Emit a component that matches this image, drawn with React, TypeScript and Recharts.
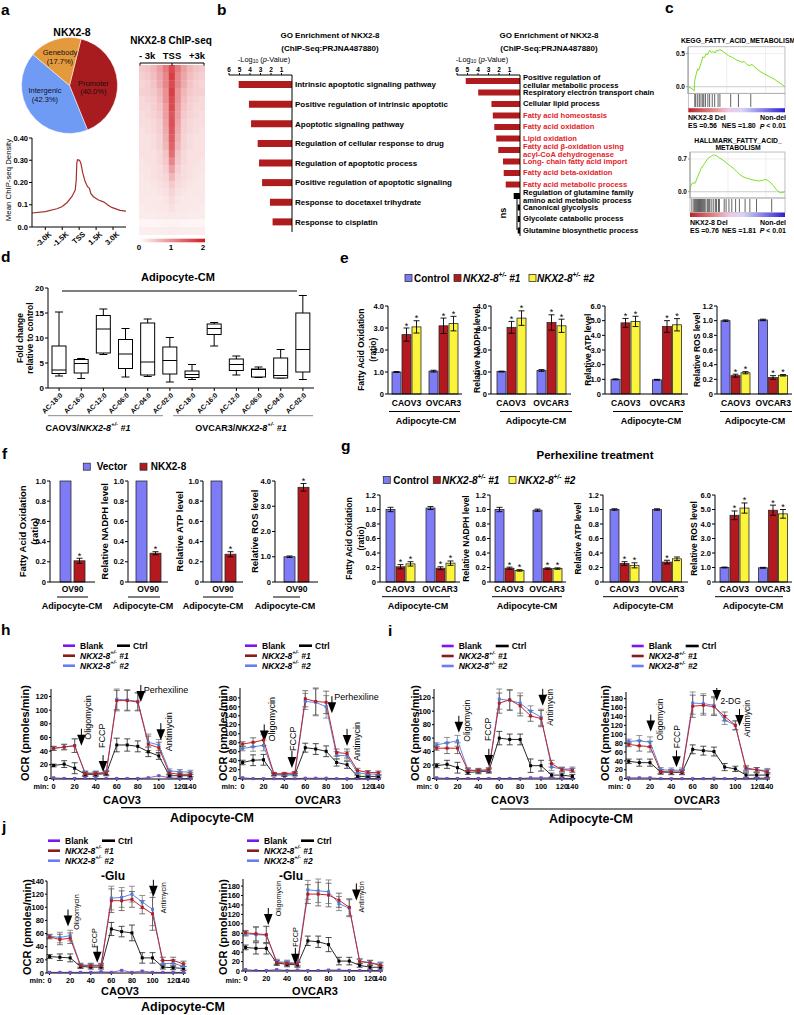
import React from 'react';
import {
  PieChart, Pie, Cell, LineChart, Line, XAxis, YAxis, BarChart, Bar, ErrorBar,
  ScatterChart, Scatter, ComposedChart, ReferenceLine, ReferenceDot, CartesianGrid,
} from 'recharts';

const FONT = '"Liberation Sans", Arial, Helvetica, sans-serif';
const AX = { stroke: '#000', strokeWidth: 1 };
const TL = { stroke: '#000', strokeWidth: 1 };
const tk = (fs: number, fw = 700) => ({ fontSize: fs, fontWeight: fw, fill: '#000', fontFamily: FONT });

/* ---------------- a ---------------- */
const PIE_NAMES = ['Promoter', 'Intergenic', 'Genebody'];
const PIE_VALUES = [40.0, 42.3, 17.7];
const PIE_COLORS = ['#a81b1f', '#6f9bf5', '#e4993d'];

const DENS_X = [-4.18, -3.0, -1.97, -1.53, -1.09, -0.65, -0.35, -0.26, -0.21, -0.15, 0.03, 0.15, 0.32, 0.53, 0.74, 0.91, 1.03, 1.26, 1.71, 2.15, 2.38, 2.5, 2.88, 3.62, 4.15];
const DENS_Y = [0.063, 0.069, 0.082, 0.091, 0.109, 0.136, 0.166, 0.211, 0.287, 0.302, 0.3, 0.287, 0.242, 0.204, 0.181, 0.174, 0.151, 0.136, 0.121, 0.113, 0.106, 0.1, 0.088, 0.075, 0.071];
const DENS_XTICKS = [-3, -1.5, 0, 1.5, 3];
const DENS_XLABELS = ['-3.0K', '-1.5K', 'TSS', '1.5K', '3.0K'];
const DENS_YTICKS = [0, 0.1, 0.2, 0.3, 0.4];
const DENS_YLABELS = ['0.0', '0.1', '0.20', '0.30', '0.40'];

const HEAT = [
  [0.45, 0.5, 0.6, 0.8, 1.1, 1.5, 1.1, 0.8, 0.6, 0.5, 0.45],
  [0.4, 0.45, 0.55, 0.75, 1.0, 1.6, 1.0, 0.75, 0.55, 0.45, 0.4],
  [0.35, 0.4, 0.5, 0.7, 1.0, 1.5, 1.0, 0.7, 0.5, 0.4, 0.35],
  [0.4, 0.4, 0.45, 0.6, 0.9, 1.6, 0.9, 0.6, 0.45, 0.4, 0.4],
  [0.32, 0.36, 0.4, 0.55, 0.9, 1.5, 0.9, 0.55, 0.4, 0.36, 0.32],
  [0.32, 0.32, 0.4, 0.5, 0.8, 1.5, 0.85, 0.5, 0.4, 0.32, 0.32],
  [0.28, 0.32, 0.36, 0.45, 0.8, 1.4, 0.8, 0.45, 0.36, 0.32, 0.28],
  [0.28, 0.28, 0.32, 0.4, 0.75, 1.45, 0.75, 0.4, 0.32, 0.28, 0.28],
  [0.25, 0.28, 0.32, 0.4, 0.7, 1.4, 0.7, 0.4, 0.32, 0.28, 0.25],
  [0.25, 0.25, 0.28, 0.36, 0.65, 1.35, 0.65, 0.36, 0.28, 0.25, 0.25],
  [0.25, 0.25, 0.28, 0.36, 0.6, 1.3, 0.6, 0.36, 0.28, 0.25, 0.25],
  [0.25, 0.25, 0.25, 0.32, 0.5, 1.2, 0.5, 0.32, 0.25, 0.25, 0.25],
  [0.22, 0.25, 0.25, 0.32, 0.45, 1.0, 0.45, 0.32, 0.25, 0.25, 0.22],
  [0.22, 0.22, 0.25, 0.28, 0.4, 0.8, 0.4, 0.28, 0.25, 0.22, 0.22],
  [0.2, 0.22, 0.25, 0.28, 0.34, 0.6, 0.34, 0.28, 0.25, 0.22, 0.2],
  [0.2, 0.2, 0.22, 0.25, 0.3, 0.45, 0.3, 0.25, 0.22, 0.2, 0.2],
  [0.2, 0.2, 0.2, 0.22, 0.25, 0.36, 0.25, 0.22, 0.2, 0.2, 0.2],
  [0.18, 0.18, 0.2, 0.2, 0.22, 0.3, 0.22, 0.2, 0.2, 0.18, 0.18],
  [0.16, 0.18, 0.18, 0.2, 0.2, 0.25, 0.2, 0.2, 0.18, 0.18, 0.16],
  [0.16, 0.16, 0.16, 0.18, 0.18, 0.2, 0.18, 0.18, 0.16, 0.16, 0.16],
  [0.08, 0.08, 0.08, 0.08, 0.1, 0.1, 0.1, 0.08, 0.08, 0.08, 0.08],
  [0.14, 0.14, 0.14, 0.15, 0.15, 0.17, 0.15, 0.15, 0.14, 0.14, 0.14],
];

/* ---------------- b ---------------- */
const GO_TICKS = [1, 2, 3, 4, 5, 6];
const GO1_TERMS = ['Intrinsic apoptotic signaling pathway', 'Positive regulation of intrinsic apoptotic', 'Apoptotic signaling pathway', 'Regulation of cellular response to drug', 'Regulation of apoptotic process', 'Positive regulation of apoptotic signaling', 'Response to docetaxel trihydrate', 'Response to cisplatin'];
const GO1_VALUES = [5.08, 4.1, 3.9, 3.27, 3.14, 2.85, 2.1, 1.85];
const GO2_TERMS = ['Positive regulation of\ncellular metabolic process', 'Respiratory electron transport chain', 'Cellular lipid process', 'Fatty acid homeostasis', 'Fatty acid oxidation', 'Lipid oxidation', 'Fatty acid \u03b2-oxidation using\nacyl-CoA dehydrogenase', 'Long- chain fatty acid import', 'Fatty acid beta-oxidation', 'Fatty acid metabolic process', 'Regulation of glutamine family\namino acid metabolic process', 'Canonical glycolysis', 'Glycolate catabolic process', 'Glutamine biosynthetic process'];
const GO2_VALUES = [5.17, 3.98, 2.72, 2.59, 2.45, 2.26, 2.07, 1.62, 1.55, 1.36, 0.6, 0.22, 0.22, 0.22];
const GO2_FATTY = [false, false, false, true, true, true, true, true, true, true, false, false, false, false];
const GO2_NS = [false, false, false, false, false, false, false, false, false, false, true, true, true, true];

/* ---------------- c ---------------- */
const KEGG_X = [0, 3, 6.4, 7, 8.1, 9.9, 11, 13.4, 15.2, 17, 18.7, 20, 22.3, 24, 25.8, 28, 29.3, 31, 32.9, 36.4, 41.7, 46, 50.5, 55.8, 58, 61.1, 64, 66, 68.2, 75.3, 89.4, 100];
const KEGG_ES = [0, -0.02, -0.06, 0.1, 0.17, 0.27, 0.25, 0.35, 0.45, 0.44, 0.5, 0.48, 0.55, 0.52, 0.53, 0.51, 0.55, 0.54, 0.56, 0.53, 0.47, 0.44, 0.4, 0.37, 0.38, 0.33, 0.32, 0.34, 0.3, 0.22, 0.11, 0];
const KEGG_HITS = [7, 8, 10, 11.7, 13.4, 15.2, 16.3, 18, 20.5, 22.3, 25, 27.5, 31, 32.9, 44, 52, 64.7];
const HALL_X = [0, 1, 2.8, 5.3, 8.1, 11.7, 15.2, 18.7, 22.3, 24.7, 28, 31.1, 34.6, 38.2, 41.7, 45.2, 48.8, 52.3, 55.8, 59.4, 63, 66.4, 70, 73.5, 77, 80.6, 84.1, 87.6, 91.2, 95, 100];
const HALL_ES = [0, 0.14, 0.19, 0.18, 0.32, 0.5, 0.6, 0.71, 0.76, 0.79, 0.77, 0.72, 0.68, 0.62, 0.56, 0.51, 0.44, 0.37, 0.32, 0.29, 0.27, 0.25, 0.24, 0.23, 0.25, 0.26, 0.21, 0.13, 0.04, -0.03, 0];
const HALL_HITS = [2, 4, 5, 6, 7, 8, 9, 10, 11, 12, 13, 14, 15, 16, 18, 19, 20, 21, 23, 25, 27, 28, 30, 31, 36, 38, 41, 44, 48, 52, 58, 63, 70, 86];
const GSEA_GRID_X = [20, 40, 60, 80];

/* ---------------- d ---------------- */
const AC_LABELS = ['AC-18:0', 'AC-16:0', 'AC-12:0', 'AC-06:0', 'AC-04:0', 'AC-02:0', 'AC-18:0', 'AC-16:0', 'AC-12:0', 'AC-06:0', 'AC-04:0', 'AC-02:0'];
const BOX_MIN = [2.4, 1.9, 6.7, 2.2, 2.3, 1.2, 1.7, 8.4, 2.6, 2.1, 2.0, 1.7];
const BOX_Q1 = [2.9, 3.0, 7.0, 3.9, 2.6, 2.8, 2.1, 10.7, 3.5, 2.2, 2.0, 3.2];
const BOX_MED = [3.6, 4.9, 11.8, 6.8, 5.2, 5.5, 2.7, 11.9, 4.7, 3.7, 2.5, 7.7];
const BOX_Q3 = [8.4, 5.7, 14.5, 9.7, 13.0, 8.2, 3.4, 12.8, 5.8, 3.8, 6.0, 15.0];
const BOX_MAX = [15.2, 5.9, 15.8, 11.9, 13.8, 10.1, 4.7, 13.1, 6.4, 4.2, 7.7, 18.5];
const BOX_TICKS = [0, 5, 10, 15, 20];

/* ---------------- e / f / g ---------------- */
const C_CTRL = '#7d7bf5';
const C_N1 = '#b3191e';
const C_N2 = '#fbf43a';
const GROUPS = ['CAOV3', 'OVCAR3'];
const F_GROUPS = ['OV90'];
const TICKS_4 = [0, 1, 2, 3, 4];
const TICKS_6 = [0, 1, 2, 3, 4, 5, 6];
const TICKS_12 = [0, 0.2, 0.4, 0.6, 0.8, 1.0, 1.2];
const TICKS_10 = [0, 0.2, 0.4, 0.6, 0.8, 1.0];

const E_FAO = [[1.0, 2.7, 3.05], [1.04, 3.1, 3.2]];
const E_FAO_SEM = [[0.02, 0.3, 0.28], [0.04, 0.35, 0.33]];
const E_NADPH = [[1.02, 3.03, 3.45], [1.07, 3.25, 3.1]];
const E_NADPH_SEM = [[0.02, 0.27, 0.33], [0.04, 0.35, 0.3]];
const E_ATP = [[1.0, 4.85, 4.95], [0.97, 4.6, 4.72]];
const E_ATP_SEM = [[0.03, 0.3, 0.35], [0.03, 0.4, 0.42]];
const E_ROS = [[1.0, 0.25, 0.29], [1.01, 0.225, 0.255]];
const E_ROS_SEM = [[0.01, 0.02, 0.015], [0.01, 0.025, 0.01]];

const F_FAO = [[1.0, 0.21]];
const F_FAO_SEM = [[0, 0.025]];
const F_NADPH = [[1.0, 0.285]];
const F_NADPH_SEM = [[0, 0.015]];
const F_ATP = [[1.0, 0.275]];
const F_ATP_SEM = [[0, 0.025]];
const F_ROS = [[1.0, 3.75]];
const F_ROS_SEM = [[0.03, 0.15]];

const G_FAO = [[1.0, 0.21, 0.25], [1.02, 0.19, 0.26]];
const G_FAO_SEM = [[0.03, 0.03, 0.03], [0.02, 0.02, 0.03]];
const G_NADPH = [[1.0, 0.19, 0.16], [0.99, 0.185, 0.185]];
const G_NADPH_SEM = [[0.03, 0.015, 0.01], [0.015, 0.01, 0.01]];
const G_ATP = [[1.0, 0.255, 0.23], [1.0, 0.275, 0.32]];
const G_ATP_SEM = [[0.01, 0.025, 0.035], [0.01, 0.025, 0.025]];
const G_ATP_STARS = [[false, true, true], [false, true, false]];
const G_ROS = [[1.0, 4.6, 5.1], [0.98, 4.95, 4.7]];
const G_ROS_SEM = [[0.03, 0.3, 0.35], [0.03, 0.35, 0.3]];

/* ---------------- h / i / j ---------------- */
const OCR_POINTS = [0, 1, 2, 3, 4, 5, 6, 7, 8, 9, 10, 11, 12, 13];
const OCR_TICKS = [0, 2, 4, 6, 8, 10, 12, 13];
const OCR_TICK_LABELS = ['0', '20', '40', '60', '80', '100', '120', '140'];
const OCR_Y120 = [0, 20, 40, 60, 80, 100, 120];
const OCR_Y140 = [0, 20, 40, 60, 80, 100, 120, 140];
const OCR_Y180 = [0, 20, 40, 60, 80, 100, 120, 140, 160, 180];

const H1_BLANK = [1, 0, 0, 0, 0, 0, 0, 0, 0, 1, 4, 1, 0, 0];
const H1_CTRL = [19, 21, 15, 6, 6, 7, 49, 49, 47, 39, 33, 4, 4, 4];
const H1_N1 = [44, 46, 48, 7, 7, 8, 114, 114, 112, 50, 45, 8, 6, 6];
const H1_N2 = [44, 46, 48, 8, 8, 9, 116, 115, 113, 53, 49, 11, 10, 9];
const H1_CTRL_ERR = [2, 5, 8, 3, 3, 3, 10, 9, 8, 7, 5, 2, 2, 2];
const H1_NKX_ERR = [3, 4, 10, 3, 3, 3, 15, 15, 13, 12, 8, 3, 3, 3];

const H2_BLANK = [2, 0, 0, 0, 0, 0, 1, 1, 1, 0, 0, 0, 0, 0];
const H2_CTRL = [36, 41, 42, 9, 8, 9, 69, 66, 61, 36, 31, 5, 5, 5];
const H2_N1 = [77, 81, 86, 11, 11, 13, 178, 172, 170, 58, 56, 18, 14, 13];
const H2_N2 = [67, 71, 74, 10, 9, 10, 172, 170, 160, 52, 51, 13, 10, 10];
const H2_CTRL_ERR = [5, 12, 12, 3, 3, 3, 10, 12, 12, 8, 8, 3, 3, 3];
const H2_NKX_ERR = [5, 10, 12, 3, 3, 3, 18, 30, 25, 8, 10, 5, 4, 4];

const I1_BLANK = [1, 0, 0, 0, 0, 0, 0, 0, 0, 1, 1, 1, 0, 0];
const I1_CTRL = [19, 21, 16, 9, 10, 11, 60, 58, 58, 19, 19, 5, 5, 3];
const I1_N1 = [45, 45, 45, 12, 12, 13, 112, 117, 108, 93, 89, 22, 13, 12];
const I1_N2 = [50, 53, 56, 13, 11, 12, 118, 116, 112, 100, 91, 17, 14, 14];
const I1_CTRL_ERR = [3, 6, 8, 3, 3, 3, 10, 8, 8, 10, 8, 3, 3, 3];
const I1_NKX_ERR = [3, 8, 8, 3, 3, 3, 15, 15, 15, 8, 12, 5, 3, 3];

const I2_BLANK = [2, 2, 2, 0, 0, 0, 0, 0, 1, 0, 0, 0, 1, 2];
const I2_CTRL = [39, 36, 36, 15, 14, 14, 66, 63, 61, 26, 22, 8, 8, 8];
const I2_N1 = [77, 74, 72, 16, 15, 15, 163, 165, 162, 140, 120, 24, 20, 15];
const I2_N2 = [84, 85, 82, 20, 19, 19, 170, 169, 165, 132, 120, 21, 20, 18];
const I2_CTRL_ERR = [5, 8, 8, 5, 5, 5, 10, 10, 10, 8, 6, 5, 5, 5];
const I2_NKX_ERR = [5, 12, 12, 5, 5, 5, 25, 22, 20, 10, 10, 5, 5, 5];

const J1_BLANK = [1, 1, 1, 1, 1, 2, 1, 4, 1, 3, 1, 1, 1, 1];
const J1_CTRL = [25, 24, 23, 10, 9, 9, 67, 63, 61, 23, 23, 9, 8, 7];
const J1_N1 = [55, 51, 53, 11, 11, 11, 110, 110, 112, 100, 90, 19, 19, 14];
const J1_N2 = [56, 54, 57, 12, 12, 12, 114, 115, 120, 108, 97, 14, 15, 10];
const J1_CTRL_ERR = [3, 5, 6, 3, 3, 3, 10, 8, 12, 8, 8, 3, 3, 3];
const J1_NKX_ERR = [3, 8, 8, 3, 3, 3, 18, 15, 12, 10, 25, 5, 5, 4];

const J2_BLANK = [3, 1, 1, 3, 1, 2, 1, 1, 2, 2, 1, 1, 1, 1];
const J2_CTRL = [50, 48, 48, 17, 14, 13, 64, 62, 56, 21, 21, 12, 8, 8];
const J2_N1 = [81, 79, 77, 18, 16, 15, 163, 163, 161, 150, 135, 20, 17, 12];
const J2_N2 = [79, 77, 76, 20, 18, 17, 172, 170, 168, 143, 133, 21, 18, 14];
const J2_CTRL_ERR = [5, 12, 12, 5, 5, 5, 10, 12, 15, 8, 8, 4, 4, 4];
const J2_NKX_ERR = [5, 15, 18, 5, 5, 5, 20, 25, 25, 15, 18, 5, 5, 5];

const H1_ANN = [
  { x: 2.64, y: 48, t: 'Oligomycin', rot: true, dx: 7, dy: -6 },
  { x: 4.7, y: 9.3, t: 'FCCP', rot: true, dx: -1.5, dy: -24 },
  { x: 8.29, y: 112, t: 'Perhexiline', rot: false, dx: 3, dy: -11.5 },
  { x: 10.19, y: 56, t: 'Antimycin', rot: true, dx: 8, dy: 11 },
];
const H2_ANN = [
  { x: 2.07, y: 83, t: 'Oligomycin', rot: true, dx: 7.7, dy: 0 },
  { x: 4.72, y: 23.7, t: 'FCCP', rot: true, dx: 1, dy: -17 },
  { x: 8.55, y: 146, t: 'Perhexiline', rot: false, dx: 2.3, dy: -16 },
  { x: 10.0, y: 73, t: 'Antimycin', rot: true, dx: 9.7, dy: 15 },
];
const I1_ANN = [
  { x: 2.13, y: 68, t: 'Oligomycin', rot: true, dx: 7.7, dy: 9 },
  { x: 5.0, y: 18.7, t: 'FCCP', rot: true, dx: -1, dy: -25 },
  { x: 8.13, y: 136, t: '2-DG', rot: false, dx: 5, dy: -2 },
  { x: 10.16, y: 108, t: 'Antimycin', rot: true, dx: 7, dy: 20 },
];
const I2_ANN = [
  { x: 2.07, y: 106, t: 'Oligomycin', rot: true, dx: 9.7, dy: 9 },
  { x: 4.48, y: 25.5, t: 'FCCP', rot: true, dx: 1, dy: -19 },
  { x: 8.26, y: 174.5, t: '2-DG', rot: false, dx: 3.7, dy: -0.5 },
  { x: 10.39, y: 118.6, t: 'Antimycin', rot: true, dx: 7.7, dy: 11 },
];
const J1_ANN = [
  { x: 1.79, y: 70.7, t: 'Oligomycin', rot: true, dx: 8.4, dy: 3.3 },
  { x: 4.63, y: 15.6, t: 'FCCP', rot: true, dx: -2.5, dy: -15 },
  { x: 10.08, y: 116, t: 'Antimycin', rot: true, dx: 10, dy: 16.6 },
];
const J2_ANN = [
  { x: 2.19, y: 97.5, t: 'Oligomycin', rot: true, dx: 10, dy: -8.7 },
  { x: 4.8, y: 13, t: 'FCCP', rot: true, dx: 0, dy: -18 },
  { x: 10.68, y: 149.5, t: 'Antimycin', rot: true, dx: 4.7, dy: 12 },
];

/* ================= helpers ================= */
function T({ x, y, fs = 8, fw = 700, a = 'middle', rot = 0, fill = '#000', fst, children }: any) {
  return (
    <text
      x={rot ? 0 : x}
      y={rot ? 0 : y}
      transform={rot ? `translate(${x},${y}) rotate(${rot})` : undefined}
      fontSize={fs}
      fontWeight={fw}
      textAnchor={a}
      dominantBaseline="central"
      fill={fill}
      fontStyle={fst}
      fontFamily={FONT}
    >
      {children}
    </text>
  );
}

function Nkx({ fs, n }: any) {
  return (
    <>
      <tspan fontStyle="italic">NKX2-8</tspan>
      <tspan fontStyle="italic" fontSize={fs * 0.65} dy={-fs * 0.38}>+/-</tspan>
      <tspan fontStyle="italic" dy={fs * 0.38}>{' ' + n}</tspan>
    </>
  );
}

const SVG_STYLE: any = { position: 'absolute', left: 0, top: 0, overflow: 'visible', pointerEvents: 'none' };

function heatColor(v: number) {
  const t = Math.min(v / 2, 1);
  const r = Math.round(255 - t * 50);
  const g = Math.round(255 - t * 240);
  const b = Math.round(255 - t * 232);
  return `rgb(${r},${g},${b})`;
}

/* ================= a ================= */
function PiePanel() {
  const data = PIE_NAMES.map((n, i) => ({ n, v: PIE_VALUES[i] }));
  return (
    <div style={{ position: 'absolute', left: 21, top: 37 }}>
      <PieChart width={97} height={97} margin={{ top: 0, right: 0, bottom: 0, left: 0 }}>
        <Pie data={data} dataKey="v" cx="50%" cy="50%" outerRadius={48} startAngle={76} endAngle={-284} stroke="#fff" strokeWidth={0.5} isAnimationActive={false}>
          {data.map((d, i) => <Cell key={i} fill={PIE_COLORS[i]} />)}
        </Pie>
      </PieChart>
    </div>
  );
}

function DensityPanel() {
  const data = DENS_X.map((x, i) => ({ x, y: DENS_Y[i] }));
  const pl = 32, pt = 138, pr = 126, pb = 227, yw = 22, xh = 24, mt = 4;
  const DTick = (p: any) => (
    <text transform={`translate(${p.x + 5},${p.y + 3}) rotate(-42)`} textAnchor="end" dominantBaseline="central" fontSize={7.5} fontWeight={700} fontFamily={FONT}>
      {DENS_XLABELS[DENS_XTICKS.indexOf(p.payload.value)]}
    </text>
  );
  return (
    <div style={{ position: 'absolute', left: pl - yw, top: pt - mt }}>
      <LineChart width={pr - pl + yw + 2} height={pb - pt + mt + xh} data={data} margin={{ top: mt, right: 2, bottom: 0, left: 0 }}>
        <XAxis type="number" dataKey="x" domain={[-4.18, 4.15]} ticks={DENS_XTICKS} interval={0} height={xh} axisLine={AX} tickLine={TL} tickSize={3} tickMargin={0} tick={DTick} />
        <YAxis type="number" domain={[0, 0.4]} ticks={DENS_YTICKS} tickFormatter={(v: any, i: number) => DENS_YLABELS[i]} width={yw} interval={0} axisLine={AX} tickLine={TL} tickSize={3} tickMargin={1} tick={tk(7.5)} />
        <Line dataKey="y" type="linear" stroke="#a3312b" strokeWidth={1.2} dot={false} isAnimationActive={false} />
      </LineChart>
    </div>
  );
}

function HeatPanel() {
  const data: any[] = [];
  HEAT.forEach((row, r) => row.forEach((v, c) => data.push({ x: c, y: r, v })));
  const cw = 66 / 11, ch = 170 / HEAT.length;
  const shape = (p: any) => (
    <rect x={p.cx - cw / 2 - 0.2} y={p.cy - ch / 2 - 0.2} width={cw + 0.4} height={ch + 0.4} fill={heatColor(p.payload.v)} />
  );
  return (
    <div style={{ position: 'absolute', left: 139, top: 65 }}>
      <ScatterChart width={66} height={170} margin={{ top: 0, right: 0, bottom: 0, left: 0 }}>
        <XAxis type="number" dataKey="x" domain={[-0.5, 10.5]} hide />
        <YAxis type="number" dataKey="y" domain={[-0.5, HEAT.length - 0.5]} reversed hide />
        <Scatter data={data} shape={shape} isAnimationActive={false} />
      </ScatterChart>
    </div>
  );
}

/* ================= b ================= */
function GoChart({ pl, pt, pr, pb, terms, values, barColors, labelColors, labelW, barSize, fs, lh }: any) {
  const data = terms.map((t: string, i: number) => ({ i, v: values[i] }));
  const xh = 12, mt = 2, ml = 5;
  const top = pt - xh - mt;
  const width = Math.round(pr - pl + labelW + ml), height = Math.round(pb - top + 1);
  const Tick = (p: any) => {
    const idx = p.payload.value;
    const lines = String(terms[idx]).split('\n');
    return (
      <text x={p.x} y={p.y} fontSize={fs} fontWeight={700} fill={labelColors[idx]} dominantBaseline="central" fontFamily={FONT}>
        {lines.length === 1 ? lines[0] : lines.map((l: string, k: number) => <tspan key={k} x={p.x} dy={k === 0 ? -lh / 2 : lh}>{l}</tspan>)}
      </text>
    );
  };
  return (
    <div style={{ position: 'absolute', left: pl - ml, top }}>
      <BarChart layout="vertical" width={width} height={height} data={data} margin={{ top: mt, right: 0, bottom: 1, left: ml }}>
        <XAxis type="number" orientation="top" reversed domain={[0, 6]} ticks={GO_TICKS} height={xh} axisLine={AX} tickLine={TL} tickSize={2} tickMargin={1} tick={tk(6.5)} interval={0} />
        <YAxis type="category" dataKey="i" orientation="right" width={labelW} axisLine={AX} tickLine={false} tickSize={0} tickMargin={3} tick={Tick} interval={0} />
        <Bar dataKey="v" barSize={barSize} isAnimationActive={false}>
          {data.map((d: any, i: number) => <Cell key={i} fill={barColors[i]} />)}
        </Bar>
      </BarChart>
    </div>
  );
}

/* ================= c ================= */
function Gsea({ pl, pt, pr, pb, xs, es, dom, yticks, ylabels, hitTop, hitBot, hits }: any) {
  const data = xs.map((x: number, i: number) => ({ x, y: es[i] }));
  const yw = 14;
  const hitData = [{ x: 0, y: 0 }, { x: 100, y: 1 }];
  return (
    <>
      <div style={{ position: 'absolute', left: pl - yw, top: pt }}>
        <LineChart width={Math.round(pr - pl + yw)} height={Math.round(pb - pt)} data={data} margin={{ top: 0, right: 0, bottom: 0, left: 0 }}>
          <CartesianGrid stroke="#e2e2e2" strokeWidth={0.6} />
          <XAxis type="number" dataKey="x" domain={[0, 100]} ticks={GSEA_GRID_X} hide />
          <YAxis type="number" domain={dom} ticks={yticks} tickFormatter={(v: any, i: number) => ylabels[i]} width={yw} interval={0} axisLine={{ stroke: '#999' }} tickLine={{ stroke: '#999' }} tickSize={2} tickMargin={1} tick={tk(6.5)} />
          <ReferenceLine y={0} stroke="#c4c4c4" strokeWidth={0.7} />
          <Line dataKey="y" type="linear" stroke="#7ee021" strokeWidth={1} dot={false} isAnimationActive={false} />
        </LineChart>
      </div>
      <div style={{ position: 'absolute', left: pl, top: hitTop }}>
        <LineChart width={Math.round(pr - pl)} height={Math.round(hitBot - hitTop)} data={hitData} margin={{ top: 1, right: 0, bottom: 1, left: 0 }}>
          <XAxis type="number" dataKey="x" domain={[0, 100]} hide />
          <YAxis type="number" domain={[0, 1]} hide />
          <Line dataKey="y" stroke="none" dot={false} isAnimationActive={false} />
          {hits.map((h: number, k: number) => <ReferenceLine key={k} x={h} stroke="#222" strokeWidth={0.7} />)}
        </LineChart>
      </div>
    </>
  );
}

/* ================= d ================= */
function BoxPanel() {
  const data = AC_LABELS.map((l, i) => ({ k: i, r: [BOX_Q1[i], BOX_Q3[i]], lo: BOX_MIN[i], q1: BOX_Q1[i], med: BOX_MED[i], q3: BOX_Q3[i], hi: BOX_MAX[i] }));
  const pl = 48, pt = 288, pr = 314, pb = 388, yw = 18, xh = 34, mt = 6;
  const Shape = (p: any) => {
    const pay = p.payload;
    const y0 = Math.min(p.y, p.y + p.height);
    const h = Math.abs(p.height);
    const ppu = h / (pay.q3 - pay.q1);
    const cx = p.x + p.width / 2;
    const yHi = y0 - (pay.hi - pay.q3) * ppu;
    const yLo = y0 + h + (pay.q1 - pay.lo) * ppu;
    const yMed = y0 + (pay.q3 - pay.med) * ppu;
    return (
      <g stroke="#000" strokeWidth={1} fill="none">
        <line x1={cx} y1={yHi} x2={cx} y2={y0} />
        <line x1={cx} y1={y0 + h} x2={cx} y2={yLo} />
        <line x1={cx - 4} y1={yHi} x2={cx + 4} y2={yHi} />
        <line x1={cx - 4} y1={yLo} x2={cx + 4} y2={yLo} />
        <rect x={p.x} y={y0} width={p.width} height={h} fill="#fff" />
        <line x1={p.x} y1={yMed} x2={p.x + p.width} y2={yMed} />
      </g>
    );
  };
  const AcTick = (p: any) => (
    <text transform={`translate(${p.x + 2},${p.y + 3}) rotate(-45)`} textAnchor="end" dominantBaseline="central" fontSize={6.8} fontWeight={700} fontFamily={FONT}>
      {AC_LABELS[p.payload.value]}
    </text>
  );
  return (
    <div style={{ position: 'absolute', left: pl - yw, top: pt - mt }}>
      <BarChart width={pr - pl + yw + 4} height={pb - pt + mt + xh} data={data} margin={{ top: mt, right: 4, bottom: 0, left: 0 }}>
        <XAxis dataKey="k" interval={0} height={xh} axisLine={AX} tickLine={TL} tickSize={3} tickMargin={0} tick={AcTick} />
        <YAxis type="number" domain={[0, 20]} ticks={BOX_TICKS} width={yw} interval={0} axisLine={AX} tickLine={TL} tickSize={3} tickMargin={1} tick={tk(8)} />
        <Bar dataKey="r" barSize={14} isAnimationActive={false} shape={Shape} />
      </BarChart>
    </div>
  );
}

/* ================= e / f / g ================= */
const barShape = (si: number, color: string) => (p: any) => {
  const pay = p.payload;
  const v = pay['v' + si], e = pay['e' + si], s = pay['s' + si];
  const y0 = Math.min(p.y, p.y + p.height);
  const h = Math.abs(p.height);
  const ppu = v ? h / v : 0;
  return (
    <g>
      <rect x={p.x} y={y0} width={p.width} height={h} fill={color} stroke="#2a2a2a" strokeWidth={0.8} />
      {s ? <text x={p.x + p.width / 2} y={y0 - e * ppu + 0.5} textAnchor="middle" fontSize={9} fontFamily={FONT}>*</text> : null}
    </g>
  );
};

function GroupBar({ pl, pt, pr, pb, groups, mean, sem, stars, ymax, ticks, colors, ylab, ylx, ylfs = 8.5, cm, cmY, tickOff, barSize = 9, barGap = 1 }: any) {
  const data = groups.map((g: string, gi: number) => {
    const row: any = { g };
    mean[gi].forEach((v: number, si: number) => {
      row['v' + si] = v;
      row['e' + si] = sem[gi][si];
      row['s' + si] = stars ? stars[gi][si] : si > 0;
    });
    return row;
  });
  const yw = 30, xh = 16, mt = 6, mr = 2;
  const left = pl - yw, top = pt - mt;
  const width = Math.round(pr - left + mr), height = Math.round(pb - top + xh);
  const XTick = (p: any) => (
    <text x={p.x} y={p.y + tickOff} textAnchor="middle" fontSize={8.5} fontWeight={700} fontFamily={FONT}>{p.payload.value}</text>
  );
  const ymid = (pt + pb) / 2;
  return (
    <>
      <div style={{ position: 'absolute', left, top }}>
        <BarChart width={width} height={height} data={data} margin={{ top: mt, right: mr, bottom: 0, left: 0 }} barGap={barGap}>
          <XAxis dataKey="g" axisLine={AX} tickLine={false} interval={0} height={xh} tickSize={0} tickMargin={0} tick={XTick} />
          <YAxis type="number" domain={[0, ymax]} ticks={ticks} width={yw} interval={0} axisLine={AX} tickLine={TL} tickSize={3} tickMargin={1} tick={tk(7.5)} tickFormatter={(v: number) => (v === 0 ? '0' : v.toFixed(1))} />
          {colors.map((c: string, si: number) => (
            <Bar key={si} dataKey={'v' + si} barSize={barSize} isAnimationActive={false} shape={barShape(si, c)}>
              <ErrorBar dataKey={'e' + si} width={3} stroke="#000" strokeWidth={0.9} direction="y" />
            </Bar>
          ))}
        </BarChart>
      </div>
      <svg style={SVG_STYLE} width={794} height={1015}>
        {ylab.map((l: string, k: number) => <T key={k} x={ylx[k]} y={ymid} fs={ylfs} rot={-90}>{l}</T>)}
        <line x1={cm[0]} y1={cmY} x2={cm[1]} y2={cmY} stroke="#000" strokeWidth={1} />
        <T x={cm[2]} y={cmY + 9} fs={9}>Adipocyte-CM</T>
      </svg>
    </>
  );
}

/* ================= h / i / j ================= */
const sq = (c: string) => (p: any) => <rect key={p.index} x={p.cx - 1.5} y={p.cy - 1.5} width={3} height={3} fill={c} />;

const arrowShape = (a: any, afs: number) => (p: any) => {
  const { cx, cy } = p;
  return (
    <g>
      <line x1={cx} y1={cy - 17} x2={cx} y2={cy - 10} stroke="#000" strokeWidth={1} />
      <path d={`M${cx - 4.3},${cy - 11} L${cx + 4.3},${cy - 11} L${cx},${cy} Z`} fill="#000" />
      {a.rot ? (
        <text transform={`translate(${cx + a.dx},${cy + a.dy}) rotate(-90)`} textAnchor="start" dominantBaseline="central" fontSize={afs} fontFamily={FONT}>{a.t}</text>
      ) : (
        <text x={cx + a.dx} y={cy + a.dy} dominantBaseline="central" fontSize={afs} fontFamily={FONT}>{a.t}</text>
      )}
    </g>
  );
};

function OcrChart({ pl, pt, pr, pb, ymax, yticks, blank, ctrl, n1, n2, ce, ne, ann, afs = 8.5 }: any) {
  const data = OCR_POINTS.map((i, k) => ({ i, blank: blank[k], ctrl: ctrl[k], n1: n1[k], n2: n2[k], ce: ce[k], ne: ne[k], be: 0.8 }));
  const yw = 22, xh = 14, mt = 4, mr = 9;
  const left = pl - yw, top = pt - mt;
  const width = Math.round(pr - left + mr), height = Math.round(pb - top + xh);
  const XTick = (p: any) => (
    <text x={p.x} y={p.y + 7.5} textAnchor="middle" fontSize={7.3} fontWeight={700} fontFamily={FONT}>{OCR_TICK_LABELS[OCR_TICKS.indexOf(p.payload.value)]}</text>
  );
  return (
    <div style={{ position: 'absolute', left, top }}>
      <ComposedChart width={width} height={height} data={data} margin={{ top: mt, right: mr, bottom: 0, left: 0 }}>
        <XAxis type="number" dataKey="i" domain={[-0.25, 13.25]} ticks={OCR_TICKS} interval={0} height={xh} axisLine={AX} tickLine={TL} tickSize={2} tickMargin={0} tick={XTick} />
        <YAxis type="number" domain={[0, ymax]} ticks={yticks} width={yw} interval={0} axisLine={AX} tickLine={TL} tickSize={2} tickMargin={1} tick={tk(7.5)} />
        <Line dataKey="blank" type="linear" stroke="#8a62d2" strokeWidth={1} dot={sq('#7350c4')} isAnimationActive={false}>
          <ErrorBar dataKey="be" width={2} stroke="#aaa" strokeWidth={0.8} direction="y" />
        </Line>
        <Line dataKey="ctrl" type="linear" stroke="#111" strokeWidth={0.9} dot={sq('#000')} isAnimationActive={false}>
          <ErrorBar dataKey="ce" width={3} stroke="#222" strokeWidth={0.8} direction="y" />
        </Line>
        <Line dataKey="n2" type="linear" stroke="#5d87e6" strokeWidth={1} dot={sq('#4f79dc')} isAnimationActive={false}>
          <ErrorBar dataKey="ne" width={3} stroke="#777" strokeWidth={0.8} direction="y" />
        </Line>
        <Line dataKey="n1" type="linear" stroke="#c3272c" strokeWidth={1} dot={sq('#b51c22')} isAnimationActive={false}>
          <ErrorBar dataKey="ne" width={3} stroke="#555" strokeWidth={0.8} direction="y" />
        </Line>
        {ann.map((a: any, k: number) => <ReferenceDot key={k} x={a.x} y={a.y} r={1} shape={arrowShape(a, afs)} />)}
      </ComposedChart>
    </div>
  );
}

function OcrLegend({ x, y }: any) {
  return (
    <g>
      <line x1={x} y1={y} x2={x + 12} y2={y} stroke="#7b16f2" strokeWidth={2.6} />
      <T x={x + 17} y={y} fs={8.5} a="start">Blank</T>
      <line x1={x + 54} y1={y} x2={x + 67} y2={y} stroke="#000" strokeWidth={2.6} />
      <T x={x + 70} y={y} fs={8.5} a="start">Ctrl</T>
      <line x1={x} y1={y + 10} x2={x + 12} y2={y + 10} stroke="#8b1a1c" strokeWidth={2.6} />
      <T x={x + 17} y={y + 10} fs={8.5} a="start"><Nkx fs={8.5} n="#1" /></T>
      <line x1={x} y1={y + 20} x2={x + 12} y2={y + 20} stroke="#6a7cf5" strokeWidth={2.6} />
      <T x={x + 17} y={y + 20} fs={8.5} a="start"><Nkx fs={8.5} n="#2" /></T>
    </g>
  );
}

function LegSq({ x, y, c }: any) {
  return <rect x={x} y={y - 3.5} width={7} height={7} fill={c} stroke="#333" strokeWidth={0.8} />;
}

/* ================= overlay ================= */
function Overlay() {
  const pieLab: any[] = [[93.3, 83.3], [45, 90.7], [60, 52.7]];
  return (
    <svg style={SVG_STYLE} width={794} height={1015}>
      <defs>
        <linearGradient id="heatbar" x1="0" x2="1" y1="0" y2="0">
          <stop offset="0" stopColor="#ffffff" />
          <stop offset="1" stopColor="#d01a1e" />
        </linearGradient>
        <linearGradient id="rankbar" x1="0" x2="1" y1="0" y2="0">
          <stop offset="0" stopColor="#b8242a" />
          <stop offset="0.3" stopColor="#e79a9c" />
          <stop offset="0.42" stopColor="#f1c6e8" />
          <stop offset="0.55" stopColor="#d9d6f6" />
          <stop offset="0.72" stopColor="#9b93ee" />
          <stop offset="1" stopColor="#2a1fd6" />
        </linearGradient>
      </defs>

      {/* panel letters */}
      <T x={1} y={9} fs={15.5} a="start">a</T>
      <T x={217} y={9} fs={15.5} a="start">b</T>
      <T x={665} y={7.5} fs={15.5} a="start">c</T>
      <T x={1} y={256.7} fs={15.5} a="start">d</T>
      <T x={340} y={257.5} fs={15.5} a="start">e</T>
      <T x={2} y={453} fs={15.5} a="start">f</T>
      <T x={341} y={445.5} fs={15.5} a="start">g</T>
      <T x={1} y={629} fs={15.5} a="start">h</T>
      <T x={388} y={630} fs={15.5} a="start">i</T>
      <T x={2} y={826} fs={15.5} a="start">j</T>

      {/* a */}
      <T x={72} y={32} fs={10.5}>NKX2-8</T>
      {PIE_NAMES.map((n, i) => (
        <g key={i}>
          <T x={pieLab[i][0]} y={pieLab[i][1]} fs={7.5} fw={400} fill="#111">{n}</T>
          <T x={pieLab[i][0]} y={pieLab[i][1] + 8.3} fs={7.5} fw={400} fill="#111">{`(${PIE_VALUES[i].toFixed(1)}%)`}</T>
        </g>
      ))}
      <T x={171} y={40.5} fs={10}>NKX2-8 ChIP-seq</T>
      <T x={139} y={55} fs={9.5} a="start">- 3k</T>
      <T x={172} y={55} fs={9.5}>TSS</T>
      <T x={205} y={55} fs={9.5} a="end">+3k</T>
      <line x1={140} y1={63} x2={204} y2={63} stroke="#000" strokeWidth={1} />
      <line x1={140} y1={63} x2={140} y2={65.5} stroke="#000" strokeWidth={1} />
      <line x1={172} y1={63} x2={172} y2={65.5} stroke="#000" strokeWidth={1} />
      <line x1={204} y1={63} x2={204} y2={65.5} stroke="#000" strokeWidth={1} />
      <rect x={139} y={238.7} width={66} height={3.6} fill="url(#heatbar)" />
      <T x={139} y={247} fs={8}>0</T>
      <T x={171} y={247} fs={8}>1</T>
      <T x={203} y={247} fs={8}>2</T>
      <T x={8} y={180} fs={7.8} fw={400} rot={-90}>Mean ChIP-seq Density</T>

      {/* b */}
      <T x={330} y={35} fs={8}>GO Enrichment of NKX2-8</T>
      <T x={330} y={48.3} fs={8}>(ChIP-Seq:PRJNA487880)</T>
      <T x={549} y={35} fs={8}>GO Enrichment of NKX2-8</T>
      <T x={549} y={48.3} fs={8}>(ChIP-Seq:PRJNA487880)</T>
      {[264, 482].map((cx, k) => (
        <T key={k} x={cx} y={59.3} fs={7.4} fw={400}>
          -Log<tspan fontSize={5} dy={2}>10</tspan><tspan dy={-2}> (</tspan><tspan fontStyle="italic">p</tspan>-Value)
        </T>
      ))}
      <T x={503} y={213} fs={9} rot={-90}>ns</T>
      <line x1={517} y1={196.7} x2={517} y2={230} stroke="#000" strokeWidth={1} />

      {/* c */}
      <T x={738} y={40.7} fs={6.8}>KEGG_FATTY_ACID_METABOLISM</T>
      <rect x={688.3} y={46.7} width={96.7} height={46.6} fill="none" stroke="#aaa" strokeWidth={0.7} />
      <rect x={688.3} y={93.3} width={96.7} height={15} fill="none" stroke="#aaa" strokeWidth={0.7} />
      <rect x={688.3} y={108.3} width={96.7} height={4} fill="url(#rankbar)" />
      <T x={688} y={117} fs={7} a="start">NKX2-8 Del</T>
      <T x={786} y={117} fs={7} a="end">Non-del</T>
      <T x={688} y={125.7} fs={7} a="start">ES =0.56</T>
      <T x={721.7} y={125.7} fs={7} a="start">NES =1.80</T>
      <T x={786} y={125.7} fs={7} a="end"><tspan fontStyle="italic">P</tspan> {'< 0.01'}</T>
      <T x={738} y={140} fs={6.8}>HALLMARK_FATTY_ACID_</T>
      <T x={738} y={147.7} fs={6.8}>METABOLISM</T>
      <rect x={690} y={152} width={95} height={46} fill="none" stroke="#aaa" strokeWidth={0.7} />
      <rect x={690} y={198} width={95} height={14.7} fill="none" stroke="#aaa" strokeWidth={0.7} />
      <rect x={690} y={212.7} width={95} height={4.3} fill="url(#rankbar)" />
      <T x={690} y={222} fs={7} a="start">NKX2-8 Del</T>
      <T x={786} y={222} fs={7} a="end">Non-del</T>
      <T x={690} y={230} fs={7} a="start">ES =0.76</T>
      <T x={722} y={230} fs={7} a="start">NES =1.81</T>
      <T x={786} y={230} fs={7} a="end"><tspan fontStyle="italic">P</tspan> {'< 0.01'}</T>

      {/* d */}
      <T x={178} y={277} fs={11}>Adipocyte-CM</T>
      <line x1={62} y1={291} x2={297} y2={291} stroke="#000" strokeWidth={1.2} />
      <T x={20} y={338} fs={8.5} rot={-90}>Fold change</T>
      <T x={30} y={338} fs={8.5} rot={-90}>relative to control</T>
      <line x1={48} y1={415.7} x2={163} y2={415.7} stroke="#888" strokeWidth={1} />
      <line x1={173} y1={415.7} x2={313} y2={415.7} stroke="#888" strokeWidth={1} />
      <T x={88} y={427.7} fs={9}>CAOV3/<Nkx fs={9} n="#1" /></T>
      <T x={241} y={427.7} fs={9}>OVCAR3/<Nkx fs={9} n="#1" /></T>

      {/* e legend */}
      <LegSq x={405} y={278} c={C_CTRL} />
      <T x={414} y={278} fs={10} a="start">Control</T>
      <LegSq x={454} y={278} c={C_N1} />
      <T x={463} y={278} fs={10} a="start"><Nkx fs={10} n="#1" /></T>
      <LegSq x={529} y={278} c={C_N2} />
      <T x={537} y={278} fs={10} a="start"><Nkx fs={10} n="#2" /></T>

      {/* f legend */}
      <LegSq x={83.3} y={466.7} c={C_CTRL} />
      <T x={96.7} y={466.7} fs={10} a="start">Vector</T>
      <LegSq x={140} y={466.7} c={C_N1} />
      <T x={150.7} y={466.7} fs={10} a="start">NKX2-8</T>

      {/* g */}
      <T x={595} y={455} fs={11.5}>Perhexiline treatment</T>
      <LegSq x={383.3} y={480} c={C_CTRL} />
      <T x={393.3} y={480} fs={10} a="start">Control</T>
      <LegSq x={433.3} y={480} c={C_N1} />
      <T x={442} y={480} fs={10} a="start"><Nkx fs={10} n="#1" /></T>
      <LegSq x={509} y={480} c={C_N2} />
      <T x={518} y={480} fs={10} a="start"><Nkx fs={10} n="#2" /></T>

      {/* h */}
      <OcrLegend x={63} y={645.7} />
      <OcrLegend x={245} y={645.7} />
      <T x={25} y={733} fs={11} rot={-90}>OCR (pmoles/min)</T>
      <T x={223} y={733} fs={11} rot={-90}>OCR (pmoles/min)</T>
      <T x={49} y={786.5} fs={7.3} a="end">min:</T>
      <T x={237} y={786.5} fs={7.3} a="end">min:</T>
      <T x={122} y={800} fs={11}>CAOV3</T>
      <T x={318} y={800} fs={11}>OVCAR3</T>
      <line x1={121} y1={807.7} x2={322} y2={807.7} stroke="#000" strokeWidth={1.2} />
      <T x={212} y={818} fs={12.5}>Adipocyte-CM</T>

      {/* i */}
      <OcrLegend x={441.7} y={646} />
      <OcrLegend x={631.7} y={646} />
      <T x={415} y={733} fs={11} rot={-90}>OCR (pmoles/min)</T>
      <T x={605} y={733} fs={11} rot={-90}>OCR (pmoles/min)</T>
      <T x={432} y={786.5} fs={7.3} a="end">min:</T>
      <T x={623.5} y={786.5} fs={7.3} a="end">min:</T>
      <T x={510} y={800} fs={11}>CAOV3</T>
      <T x={697} y={800} fs={11}>OVCAR3</T>
      <line x1={500} y1={809} x2={702} y2={809} stroke="#000" strokeWidth={1.2} />
      <T x={591} y={819} fs={12.5}>Adipocyte-CM</T>

      {/* j */}
      <OcrLegend x={48} y={840.7} />
      <OcrLegend x={247} y={840.7} />
      <T x={113} y={876} fs={12}>-Glu</T>
      <T x={291} y={876} fs={12}>-Glu</T>
      <T x={27} y={927} fs={11} rot={-90}>OCR (pmoles/min)</T>
      <T x={223} y={927} fs={11} rot={-90}>OCR (pmoles/min)</T>
      <T x={45} y={980.5} fs={7.3} a="end">min:</T>
      <T x={241} y={980.5} fs={7.3} a="end">min:</T>
      <T x={120} y={990.5} fs={11}>CAOV3</T>
      <T x={315} y={990.5} fs={11}>OVCAR3</T>
      <line x1={118} y1={997.7} x2={320} y2={997.7} stroke="#000" strokeWidth={1.2} />
      <T x={183} y={1006.7} fs={12.5}>Adipocyte-CM</T>
    </svg>
  );
}

export default function App() {
  const go2Bar = GO2_NS.map((ns) => (ns ? '#000' : '#b01c1e'));
  const go2Lab = GO2_FATTY.map((f) => (f ? '#e3242b' : '#000'));
  const go1Bar = GO1_VALUES.map(() => '#b01c1e');
  const go1Lab = GO1_VALUES.map(() => '#000');
  const C3 = [C_CTRL, C_N1, C_N2];
  const C2 = [C_CTRL, C_N1];
  return (
    <div style={{ position: 'absolute', left: 0, top: 0, width: 794, height: 1015, background: '#fff', fontFamily: FONT, overflow: 'hidden' }}>
      <PiePanel />
      <DensityPanel />
      <HeatPanel />

      <GoChart pl={228.6} pr={291.7} pt={75} pb={232} terms={GO1_TERMS} values={GO1_VALUES} barColors={go1Bar} labelColors={go1Lab} labelW={175} barSize={7} fs={8} lh={9} />
      <GoChart pl={457} pr={520} pt={75} pb={236} terms={GO2_TERMS} values={GO2_VALUES} barColors={go2Bar} labelColors={go2Lab} labelW={160} barSize={6} fs={7.6} lh={8.4} />

      <Gsea pl={688.3} pr={785} pt={46.7} pb={93.3} xs={KEGG_X} es={KEGG_ES} dom={[-0.11, 0.6]} yticks={[0, 0.5]} ylabels={['0.0', '0.5']} hitTop={93.3} hitBot={108.3} hits={KEGG_HITS} />
      <Gsea pl={690} pr={785} pt={152} pb={198} xs={HALL_X} es={HALL_ES} dom={[-0.135, 0.85]} yticks={[0, 0.7]} ylabels={['0.0', '0.7']} hitTop={198} hitBot={212.7} hits={HALL_HITS} />

      <BoxPanel />

      <GroupBar pl={388} pr={462} pt={305.7} pb={393.7} groups={GROUPS} mean={E_FAO} sem={E_FAO_SEM} ymax={4} ticks={TICKS_4} colors={C3} ylab={['Fatty Acid Oxidation', '(ratio)']} ylx={[361, 373]} cm={[389, 460, 426]} cmY={411.5} tickOff={12} />
      <GroupBar pl={490.7} pr={571} pt={305.7} pb={393.7} groups={GROUPS} mean={E_NADPH} sem={E_NADPH_SEM} ymax={4} ticks={TICKS_4} colors={C3} ylab={['Relative NADPH level']} ylx={[477]} cm={[500, 572, 536]} cmY={411.5} tickOff={12} />
      <GroupBar pl={605} pr={688} pt={305.7} pb={393.7} groups={GROUPS} mean={E_ATP} sem={E_ATP_SEM} ymax={6} ticks={TICKS_6} colors={C3} ylab={['Relative ATP level']} ylx={[588]} cm={[613, 683, 651]} cmY={411.5} tickOff={12} />
      <GroupBar pl={716.7} pr={792} pt={305.7} pb={393.7} groups={GROUPS} mean={E_ROS} sem={E_ROS_SEM} ymax={1.2} ticks={TICKS_12} colors={C3} ylab={['Relative ROS level']} ylx={[697]} cm={[720, 792, 755]} cmY={411.5} tickOff={12} />

      <GroupBar pl={50} pr={95} pt={481} pb={581.7} groups={F_GROUPS} mean={F_FAO} sem={F_FAO_SEM} ymax={1.0} ticks={TICKS_10} colors={C2} ylab={['Fatty Acid Oxidation', '(ratio)']} ylx={[22, 34]} ylfs={9.5} cm={[57, 88, 72]} cmY={597} tickOff={10.3} barSize={11} barGap={3} />
      <GroupBar pl={128} pr={168} pt={481} pb={581.7} groups={F_GROUPS} mean={F_NADPH} sem={F_NADPH_SEM} ymax={1.0} ticks={TICKS_10} colors={C2} ylab={['Relative NADPH level']} ylx={[104]} ylfs={9.5} cm={[128, 160, 143]} cmY={597} tickOff={10.3} barSize={11} barGap={3} />
      <GroupBar pl={203} pr={243} pt={481} pb={581.7} groups={F_GROUPS} mean={F_ATP} sem={F_ATP_SEM} ymax={1.0} ticks={TICKS_10} colors={C2} ylab={['Relative ATP level']} ylx={[179]} ylfs={9.5} cm={[203, 233, 213]} cmY={597} tickOff={10.3} barSize={11} barGap={3} />
      <GroupBar pl={275} pr={318} pt={481} pb={581.7} groups={F_GROUPS} mean={F_ROS} sem={F_ROS_SEM} ymax={4} ticks={TICKS_4} colors={C2} ylab={['Relative ROS level']} ylx={[254]} ylfs={9.5} cm={[273, 300, 285]} cmY={597} tickOff={10.3} barSize={11} barGap={3} />

      <GroupBar pl={380} pr={460} pt={495} pb={582} groups={GROUPS} mean={G_FAO} sem={G_FAO_SEM} ymax={1.2} ticks={TICKS_12} colors={C3} ylab={['Fatty Acid Oxidation', '(ratio)']} ylx={[349, 361]} cm={[382, 450, 418]} cmY={596.7} tickOff={10} />
      <GroupBar pl={490} pr={566} pt={495} pb={582} groups={GROUPS} mean={G_NADPH} sem={G_NADPH_SEM} ymax={1.2} ticks={TICKS_12} colors={C3} ylab={['Relative NADPH level']} ylx={[466]} cm={[492, 562, 527]} cmY={596.7} tickOff={10} />
      <GroupBar pl={603} pr={688} pt={495} pb={582} groups={GROUPS} mean={G_ATP} sem={G_ATP_SEM} stars={G_ATP_STARS} ymax={1.2} ticks={TICKS_12} colors={C3} ylab={['Relative ATP level']} ylx={[578]} cm={[603, 678, 643]} cmY={596.7} tickOff={10} />
      <GroupBar pl={715} pr={792} pt={495} pb={582} groups={GROUPS} mean={G_ROS} sem={G_ROS_SEM} ymax={6} ticks={TICKS_6} colors={C3} ylab={['Relative ROS level']} ylx={[694]} cm={[715, 783, 753]} cmY={596.7} tickOff={10} />

      <OcrChart pl={51.4} pr={193.3} pt={689} pb={779} ymax={120} yticks={OCR_Y120} blank={H1_BLANK} ctrl={H1_CTRL} n1={H1_N1} n2={H1_N2} ce={H1_CTRL_ERR} ne={H1_NKX_ERR} ann={H1_ANN} afs={9} />
      <OcrChart pl={239.7} pr={380.9} pt={688} pb={779} ymax={180} yticks={OCR_Y180} blank={H2_BLANK} ctrl={H2_CTRL} n1={H2_N1} n2={H2_N2} ce={H2_CTRL_ERR} ne={H2_NKX_ERR} ann={H2_ANN} afs={9} />
      <OcrChart pl={434.1} pr={575.3} pt={689} pb={779} ymax={120} yticks={OCR_Y120} blank={I1_BLANK} ctrl={I1_CTRL} n1={I1_N1} n2={I1_N2} ce={I1_CTRL_ERR} ne={I1_NKX_ERR} ann={I1_ANN} afs={8.5} />
      <OcrChart pl={625.6} pr={769.4} pt={692.3} pb={779.3} ymax={180} yticks={OCR_Y180} blank={I2_BLANK} ctrl={I2_CTRL} n1={I2_N1} n2={I2_N2} ce={I2_CTRL_ERR} ne={I2_NKX_ERR} ann={I2_ANN} afs={8.5} />
      <OcrChart pl={47.4} pr={185.9} pt={881} pb={973.3} ymax={140} yticks={OCR_Y140} blank={J1_BLANK} ctrl={J1_CTRL} n1={J1_N1} n2={J1_N2} ce={J1_CTRL_ERR} ne={J1_NKX_ERR} ann={J1_ANN} afs={7.2} />
      <OcrChart pl={243.1} pr={382.6} pt={879.3} pb={971.7} ymax={180} yticks={OCR_Y180} blank={J2_BLANK} ctrl={J2_CTRL} n1={J2_N1} n2={J2_N2} ce={J2_CTRL_ERR} ne={J2_NKX_ERR} ann={J2_ANN} afs={7.2} />

      <Overlay />
    </div>
  );
}
